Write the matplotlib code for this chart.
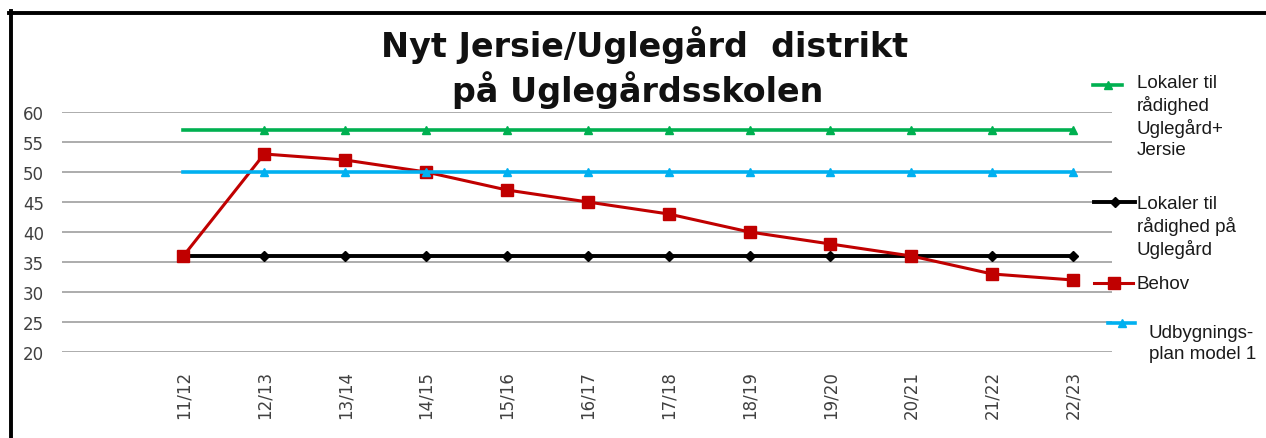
import matplotlib.pyplot as plt
from matplotlib.lines import Line2D

seasons = ["11/12", "12/13", "13/14", "14/15", "15/16", "16/17",
           "17/18", "18/19", "19/20", "20/21", "21/22", "22/23"]
lokaler_ugl_jersie = [57] * 12
lokaler_ugl = [36] * 12
behov = [36, 53, 52, 50, 47, 45, 43, 40, 38, 36, 33, 32]
udbygning_model1 = [50] * 12

yticks = [20, 25, 30, 35, 40, 45, 50, 55, 60]

GREEN = "#00B050"
BLUE = "#00B0F0"
RED = "#C00000"
BLACK = "#000000"

W, H = 1266, 439
fig = plt.figure(figsize=(W / 100, H / 100), dpi=100)
ax = fig.add_axes([62 / W, 1 - 353 / H, (1112 - 62) / W, (353 - 113) / H])

x = list(range(len(seasons)))
rest = list(range(1, len(seasons)))  # first point drawn without marker

ax.plot(x, lokaler_ugl_jersie, color=GREEN, lw=2.6, marker="^", ms=6,
        markevery=rest, zorder=3)
ax.plot(x, lokaler_ugl, color=BLACK, lw=2.8, marker="D", ms=5,
        markevery=rest, zorder=3)
ax.plot(x, behov, color=RED, lw=2.2, marker="s", ms=8.5, zorder=4)
ax.plot(x, udbygning_model1, color=BLUE, lw=2.6, marker="^", ms=6,
        markevery=rest, zorder=5)

ax.set_xlim(-1.5, len(seasons) - 0.52)
ax.set_ylim(20, 60)
ax.set_yticks(yticks)
ax.set_xticks(x)
ax.set_xticklabels(seasons, rotation=90, fontsize=12, color="#404040")
ax.tick_params(axis="y", length=0, pad=13, labelsize=12, labelcolor="#404040")
ax.tick_params(axis="x", length=0, pad=13)
for lab in ax.get_xticklabels():
    lab.set_va("top")
ax.grid(axis="y", color="#A6A6A6", lw=1.3, zorder=1)
ax.set_axisbelow(True)
for s in ax.spines.values():
    s.set_visible(False)


def fx(px):
    return px / W


def fy(py):
    return 1 - py / H


title_kw = dict(ha="center", va="baseline", fontsize=24, fontweight="bold",
                color="#111111")
fig.text(fx(645), fy(57), "Nyt Jersie/Uglegård  distrikt", **title_kw)
fig.text(fx(638), fy(102), "på Uglegårdsskolen", **title_kw)

# legend drawn at the right, Excel style
leg_font = dict(family="Liberation Sans", fontsize=13.5, color="#1a1a1a",
                linespacing=1.27, ha="left", va="top")
entries = [
    (GREEN, "^", 6, 1093, 1122, 86, 1137, 75, "Lokaler til\nrådighed\nUglegård+\nJersie", 2.6),
    (BLACK, "D", 5, 1094, 1135, 203, 1137, 196, "Lokaler til\nrådighed på\nUglegård", 2.8),
    (RED, "s", 8.5, 1094, 1133, 284, 1137, 276, "Behov", 2.2),
    (BLUE, "^", 6, 1108, 1135, 324, 1149, 325, "Udbygnings-\nplan model 1", 2.6),
]
for col, mk, ms, x0, x1, yl, tx, ty, label, lw in entries:
    fig.add_artist(Line2D([fx(x0), fx(x1)], [fy(yl), fy(yl)], color=col, lw=lw))
    fig.add_artist(Line2D([fx((x0 + x1) / 2)], [fy(yl)], color=col, marker=mk,
                          ms=ms, lw=0))
    fig.text(fx(tx), fy(ty), label, **leg_font)

# frame lines (top and left)
fig.add_artist(Line2D([fx(9), fx(W)], [fy(13.5), fy(13.5)], color="black", lw=2.8))
fig.add_artist(Line2D([fx(11), fx(11)], [fy(12), fy(H)], color="black", lw=2.8))

fig.savefig("out.png", dpi=100)
